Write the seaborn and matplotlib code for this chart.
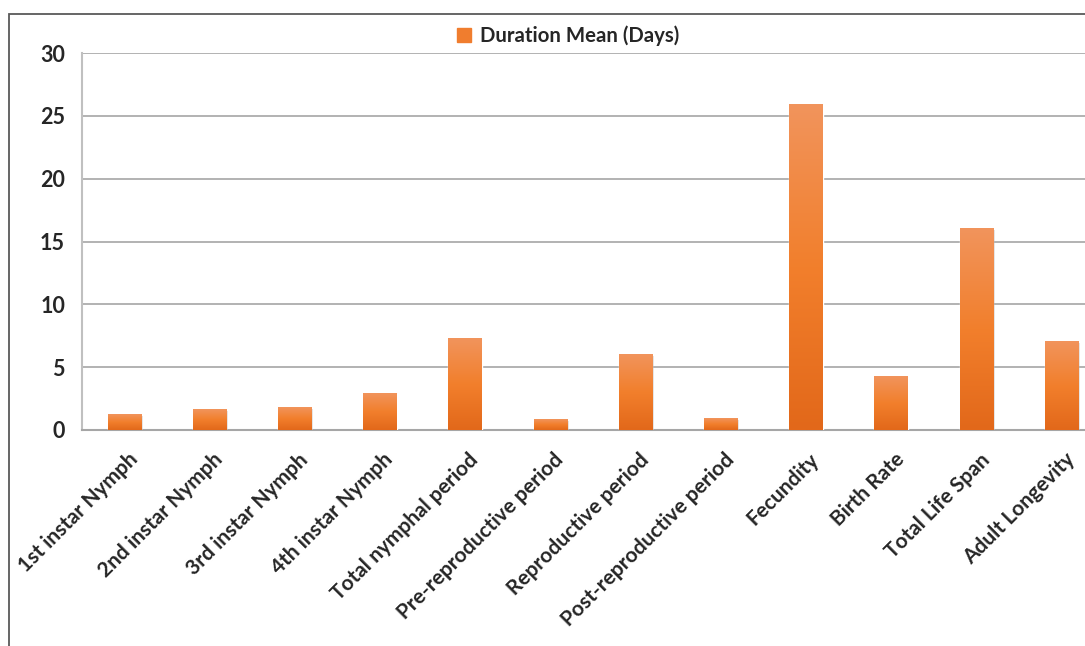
import numpy as np
import pandas as pd
import seaborn as sns
import matplotlib.pyplot as plt
import matplotlib.transforms as mtransforms
from matplotlib.colors import LinearSegmentedColormap
from matplotlib.patches import Patch, Rectangle

categories = [
    "1st instar Nymph", "2nd instar Nymph", "3rd instar Nymph", "4th instar Nymph",
    "Total nymphal period", "Pre-reproductive period", "Reproductive period",
    "Post-reproductive period", "Fecundity", "Birth Rate", "Total Life Span",
    "Adult Longevity",
]
durations = [1.2, 1.67, 1.83, 2.94, 7.27, 0.87, 5.97, 0.95, 25.93, 4.24, 16.0, 7.08]
series_name = "Duration Mean (Days)"

sns.set_style("white")
plt.rcParams["font.family"] = ["Lato", "DejaVu Sans"]
plt.rcParams["font.weight"] = "bold"

W, H = 1085, 646
fig = plt.figure(figsize=(W / 100, H / 100), dpi=100)
# plot area runs off the right edge, like the cropped original
ax = fig.add_axes([81.7 / W, 1 - 430 / H, 1022.4 / W, 377 / H])

df = pd.DataFrame({"Stage": categories, "Duration": durations})
sns.barplot(data=df, x="Stage", y="Duration", color="#F07D2E", width=0.39,
            saturation=1, ax=ax, zorder=3)

# vertical gradient on each bar (light top, darker bottom)
grad_cmap = LinearSegmentedColormap.from_list(
    "bar", ["#E2681A", "#F27F2C", "#F1945C"])
grad = np.linspace(0, 1, 256).reshape(-1, 1)
for bar in list(ax.patches):
    x0, y0 = bar.get_x(), bar.get_y()
    w, h = bar.get_width(), bar.get_height()
    sh = Rectangle((x0 + 0.02, y0), w, h - 0.12, color="#808080", alpha=0.25,
                   zorder=2, lw=0)
    ax.add_patch(sh)
    ax.imshow(grad, extent=[x0, x0 + w, y0, y0 + h], origin="lower",
              cmap=grad_cmap, aspect="auto", zorder=4)

ax.set_xlim(-0.5, len(categories) - 0.5)
ax.set_ylim(0, 30)
ax.set_yticks(range(0, 31, 5))
ax.set_xlabel("")
ax.set_ylabel("")

ax.yaxis.grid(True, color="#a6a6a6", lw=1.2)
ax.set_axisbelow(True)
for s in ["top", "right"]:
    ax.spines[s].set_visible(False)
ax.spines["left"].set_color("#c0c0c0")
ax.spines["left"].set_linewidth(1.5)
ax.spines["bottom"].set_color("#a6a6a6")
ax.spines["bottom"].set_linewidth(1.5)

ax.set_xticks(np.arange(-0.5, len(categories), 1), minor=True)
ax.tick_params(axis="x", which="major", length=0, pad=14)
ax.tick_params(axis="x", which="minor", length=7, width=1.2, color="#a6a6a6")
ax.tick_params(axis="y", length=8, width=1.2, color="#a6a6a6", pad=4,
               labelsize=15.5)
ax.set_xticks(range(len(categories)))
ax.set_xticklabels(categories, rotation=45, ha="right", va="top",
                   rotation_mode="anchor", fontsize=15, fontweight="bold")
shift = mtransforms.ScaledTranslation(3 / 100, 0, fig.dpi_scale_trans)
for lab in ax.get_xticklabels():
    lab.set_transform(lab.get_transform() + shift)
for lab in ax.get_yticklabels():
    lab.set_fontweight("bold")

# chart frame (only left and top edges fall inside the crop)
fig.add_artist(Rectangle((9 / W, -0.1), 1.2, 1 - 14 / H + 0.1,
                         transform=fig.transFigure, fill=False,
                         ec="#595959", lw=1.3))

fig.legend(handles=[Patch(color="#F07D2E")], labels=[series_name],
           loc="center", bbox_to_anchor=(568 / W, 1 - 36 / H),
           frameon=False, handlelength=0.7, handleheight=0.7,
           handletextpad=0.4, prop={"weight": "bold", "size": 14.7})

fig.savefig("out.png", dpi=100)
